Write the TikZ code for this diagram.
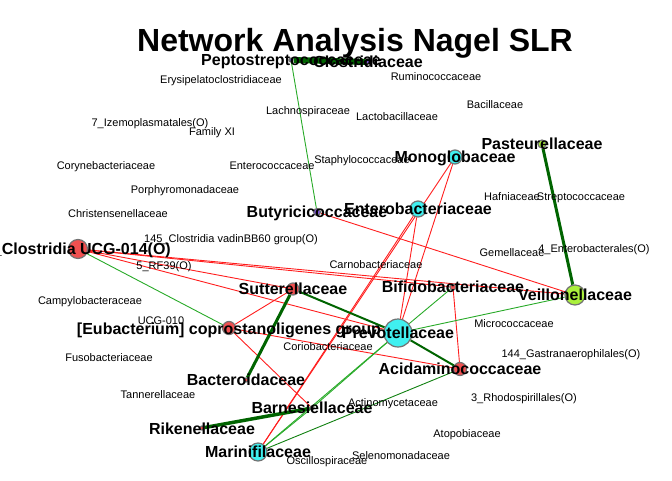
\documentclass[tikz,border=0pt]{standalone}
\usepackage{fontspec}
\setmainfont{Liberation Sans}
\usepackage{tikz}

\definecolor{nodered}{RGB}{240,80,80}
\definecolor{nodecyan}{RGB}{64,240,240}
\definecolor{nodelime}{RGB}{170,240,60}
\definecolor{nodepurple}{RGB}{130,90,220}
\definecolor{edgered}{RGB}{255,30,30}
\definecolor{edgegreen}{RGB}{40,170,40}
\definecolor{edgedark}{RGB}{0,100,0}

\pgfdeclarelayer{edges}
\pgfsetlayers{edges,main}

\tikzset{
    vertex/.style={draw=black!55, line width=1.2pt, circle, inner sep=0pt},
    biglabel/.style={font=\bfseries\fontsize{16}{16}\selectfont, anchor=base, yshift=-5.7pt, inner sep=0pt},
    smalllabel/.style={font=\fontsize{11}{11}\selectfont, anchor=base, yshift=-3.9pt, inner sep=0pt},
    titlelabel/.style={font=\bfseries\fontsize{32}{32}\selectfont, anchor=base, yshift=-11.5pt, inner sep=0pt},
    negedge/.style={draw=edgered, line width=0.9pt},
    posedge/.style={draw=edgegreen, line width=0.9pt},
    strongedge/.style={draw=edgedark}
}

\begin{document}
\begin{tikzpicture}[x=1pt, y=-1pt]
    \useasboundingbox (0, 0) rectangle (672, 480);
    \clip (0, 0) rectangle (672, 480);

    \node[vertex, fill=nodepurple, minimum size=4pt] at (291, 60) (pept) {};
    \node[vertex, fill=nodepurple, minimum size=4pt] at (368, 62) (clst) {};
    \node[vertex, fill=nodepurple, minimum size=7pt] at (317, 212) (buty) {};
    \node[vertex, fill=nodecyan, minimum size=14pt] at (455, 157) (mono) {};
    \node[vertex, fill=nodecyan, minimum size=16pt] at (418, 209) (ente) {};
    \node[vertex, fill=nodelime, minimum size=8pt] at (542, 144) (past) {};
    \node[vertex, fill=nodelime, minimum size=20pt] at (575, 295) (veil) {};
    \node[vertex, fill=nodered, minimum size=19pt] at (78, 249) (ucg) {};
    \node[vertex, fill=nodered, minimum size=6pt] at (453, 287) (bifi) {};
    \node[vertex, fill=nodered, minimum size=12pt] at (293, 289) (sutt) {};
    \node[vertex, fill=nodered, minimum size=13pt] at (229, 328) (eubc) {};
    \node[vertex, fill=nodecyan, minimum size=28pt] at (398, 333) (prev) {};
    \node[vertex, fill=nodered, minimum size=13pt] at (460, 369) (acid) {};
    \node[vertex, fill=nodered, minimum size=4pt] at (246, 380) (bact) {};
    \node[vertex, fill=nodered, minimum size=4pt] at (312, 408) (barn) {};
    \node[vertex, fill=nodered, minimum size=4pt] at (202, 428) (rike) {};
    \node[vertex, fill=nodecyan, minimum size=18pt] at (258, 452) (mari) {};

    \node[titlelabel] at (355, 40) (title) {Network Analysis Nagel SLR};

    \node[biglabel] at (291, 60) (peptl) {Peptostreptococcaceae};
    \node[biglabel] at (368, 62) (clstl) {Clostridiaceae};
    \node[biglabel] at (317, 212) (butyl) {Butyricicoccaceae};
    \node[biglabel] at (455, 157) (monol) {Monoglobaceae};
    \node[biglabel] at (418, 209) (entel) {Enterobacteriaceae};
    \node[biglabel] at (542, 144) (pastl) {Pasteurellaceae};
    \node[biglabel] at (575, 295) (veill) {Veillonellaceae};
    \node[biglabel, anchor=base east] at (171, 249) (ucgl) {\_Clostridia UCG-014(O)};
    \node[biglabel] at (453, 287) (bifil) {Bifidobacteriaceae};
    \node[biglabel] at (293, 289) (suttl) {Sutterellaceae};
    \node[biglabel] at (229, 329) (eubcl) {[Eubacterium] coprostanoligenes group};
    \node[biglabel] at (398, 333) (prevl) {Prevotellaceae};
    \node[biglabel] at (460, 369) (acidl) {Acidaminococcaceae};
    \node[biglabel] at (246, 380) (bactl) {Bacteroidaceae};
    \node[biglabel] at (312, 408) (barnl) {Barnesiellaceae};
    \node[biglabel] at (202, 429) (rikel) {Rikenellaceae};
    \node[biglabel] at (258, 452) (maril) {Marinifilaceae};

    \node[smalllabel] at (221, 80) (erys) {Erysipelatoclostridiaceae};
    \node[smalllabel] at (436, 77) (rumi) {Ruminococcaceae};
    \node[smalllabel] at (150, 123) (izem) {7\_Izemoplasmatales(O)};
    \node[smalllabel] at (212, 132) (famxi) {Family XI};
    \node[smalllabel] at (308, 111) (lach) {Lachnospiraceae};
    \node[smalllabel] at (397, 117) (lact) {Lactobacillaceae};
    \node[smalllabel] at (495, 105) (baci) {Bacillaceae};
    \node[smalllabel] at (106, 166) (cory) {Corynebacteriaceae};
    \node[smalllabel] at (272, 166) (ente2) {Enterococcaceae};
    \node[smalllabel] at (362, 160) (stap) {Staphylococcaceae};
    \node[smalllabel] at (185, 190) (porp) {Porphyromonadaceae};
    \node[smalllabel] at (512, 197) (hafn) {Hafniaceae};
    \node[smalllabel] at (581, 197) (strp) {Streptococcaceae};
    \node[smalllabel] at (118, 214) (chri) {Christensenellaceae};
    \node[smalllabel] at (231, 239) (vadi) {145\_Clostridia vadinBB60 group(O)};
    \node[smalllabel] at (164, 266) (rf39) {5\_RF39(O)};
    \node[smalllabel] at (376, 265) (carn) {Carnobacteriaceae};
    \node[smalllabel] at (512, 253) (geme) {Gemellaceae};
    \node[smalllabel] at (594, 249) (entb) {4\_Enterobacterales(O)};
    \node[smalllabel] at (90, 301) (camp) {Campylobacteraceae};
    \node[smalllabel] at (161, 321) (ucg10) {UCG-010};
    \node[smalllabel] at (514, 324) (micr) {Micrococcaceae};
    \node[smalllabel] at (328, 347) (cori) {Coriobacteriaceae};
    \node[smalllabel] at (571, 354) (gast) {144\_Gastranaerophilales(O)};
    \node[smalllabel] at (109, 358) (fuso) {Fusobacteriaceae};
    \node[smalllabel] at (158, 395) (tann) {Tannerellaceae};
    \node[smalllabel] at (524, 398) (rhod) {3\_Rhodospirillales(O)};
    \node[smalllabel] at (393, 403) (acti) {Actinomycetaceae};
    \node[smalllabel] at (467, 434) (atop) {Atopobiaceae};
    \node[smalllabel] at (401, 456) (sele) {Selenomonadaceae};
    \node[smalllabel] at (327, 461) (osci) {Oscillospiraceae};

    \begin{pgfonlayer}{edges}
    \draw[negedge] (ucg) -- (veil);
    \draw[negedge] (ucg) -- (bifi);
    \draw[negedge] (ucg) -- (sutt);
    \draw[negedge] (ucg) -- (prev);
    \draw[negedge] (buty) -- (veil);
    \draw[negedge] (eubc) -- (sutt);
    \draw[negedge] (eubc) -- (acid);
    \draw[negedge] (eubc) -- (barn);
    \draw[negedge] (ente) -- (prev);
    \draw[negedge] (mono) -- (prev);
    \draw[negedge] (mono) -- (mari);
    \draw[negedge] (ente) -- (mari);
    \draw[negedge] (bifi) -- (acid);
    \draw[posedge] (pept) -- (buty);
    \draw[posedge] (ucg) -- (eubc);
    \draw[posedge] (prev) -- (bifi);
    \draw[posedge] (prev) -- (veil);
    \draw[posedge] (mari) -- (prev);
    \draw[posedge] (barn) -- (prev);
    \draw[posedge] (mari) -- (barn);
    \draw[posedge, edgedark!60!edgegreen] (mari) -- (acid);
    \draw[strongedge, line width=6pt] (pept) -- (clst);
    \draw[strongedge, line width=3pt] (past) -- (veil);
    \draw[strongedge, line width=3pt] (sutt) -- (bact);
    \draw[strongedge, line width=3.5pt] (barn) -- (rike);
    \draw[strongedge, line width=2pt] (sutt) -- (prev);
    \draw[strongedge, line width=2pt] (prev) -- (acid);
    \end{pgfonlayer}
\end{tikzpicture}
\end{document}
